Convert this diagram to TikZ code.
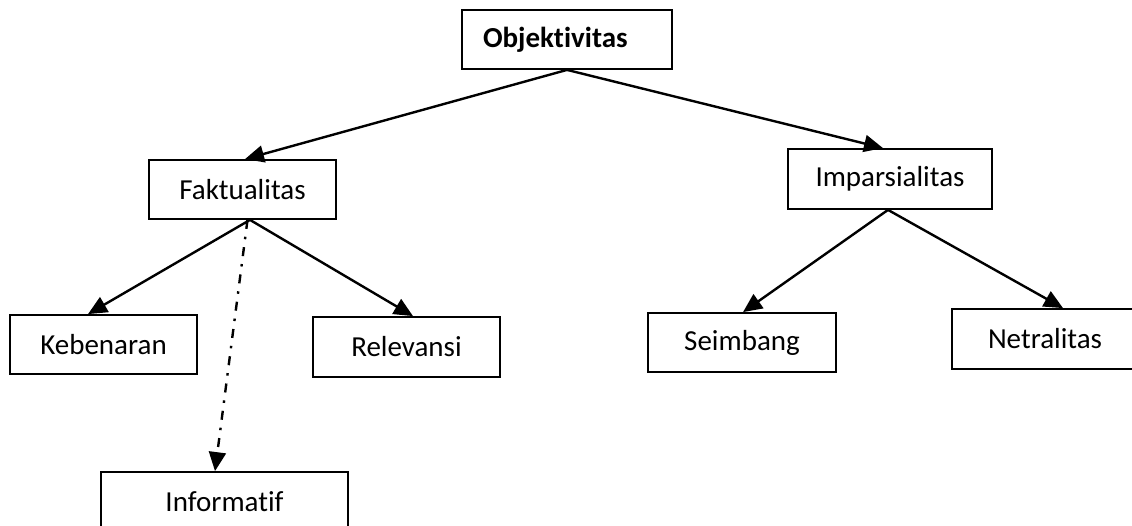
\documentclass[tikz,border=0pt]{standalone}
\usepackage{fontspec}
\setmainfont{Carlito}[RawFeature=-liga]
\usetikzlibrary{arrows.meta}
\begin{document}
\begin{tikzpicture}[x=1pt,y=-1pt,
  box/.style={draw,line width=1.8pt,rectangle,inner sep=0pt,font=\fontsize{29}{34}\selectfont},
  conn/.style={line width=2.4pt,-{Triangle[length=19pt,width=17pt]}},
  dashdotconn/.style={conn,dash pattern=on 9pt off 8pt on 2.5pt off 8pt}]
\useasboundingbox[fill=white] (0,0) rectangle (1132,526);
\node[box,minimum width=210pt,minimum height=59pt,text width=168pt,inner xsep=21pt,align=left,font=\fontsize{29}{34}\selectfont\bfseries] (obj) at (567,39.5) {Objektivitas};
\node[box,minimum width=187pt,minimum height=59pt] (fak) at (242.5,189.5) {Faktualitas};
\node[box,minimum width=204pt,minimum height=60pt] (imp) at (890,179) {Imparsialitas};
\node[box,minimum width=187pt,minimum height=59pt] (keb) at (103.5,344.5) {Kebenaran};
\node[box,minimum width=187pt,minimum height=60pt] (rel) at (406.5,347) {Relevansi};
\node[box,minimum width=188pt,minimum height=59pt] (sei) at (742,342.5) {Seimbang};
\node[box,minimum width=186pt,minimum height=60pt] (net) at (1045,339) {Netralitas};
\node[box,minimum width=247pt,minimum height=59pt] (inf) at (224.5,501.5) {Informatif};
\draw[conn] (obj.south) -- ([xshift=2.5pt]fak.north);
\draw[conn] (obj.south) -- ([xshift=-7pt]imp.north);
\draw[conn] ([xshift=7.5pt]fak.south) -- ([xshift=-15.5pt]keb.north);
\draw[conn] ([xshift=7.5pt]fak.south) -- ([xshift=6.5pt]rel.north);
\draw[dashdotconn] ([xshift=5pt]fak.south) -- ([xshift=-9.5pt]inf.north);
\draw[conn] ([xshift=-2pt]imp.south) -- ([xshift=1pt]sei.north);
\draw[conn] ([xshift=-2pt]imp.south) -- ([xshift=18pt]net.north);
\end{tikzpicture}
\end{document}
